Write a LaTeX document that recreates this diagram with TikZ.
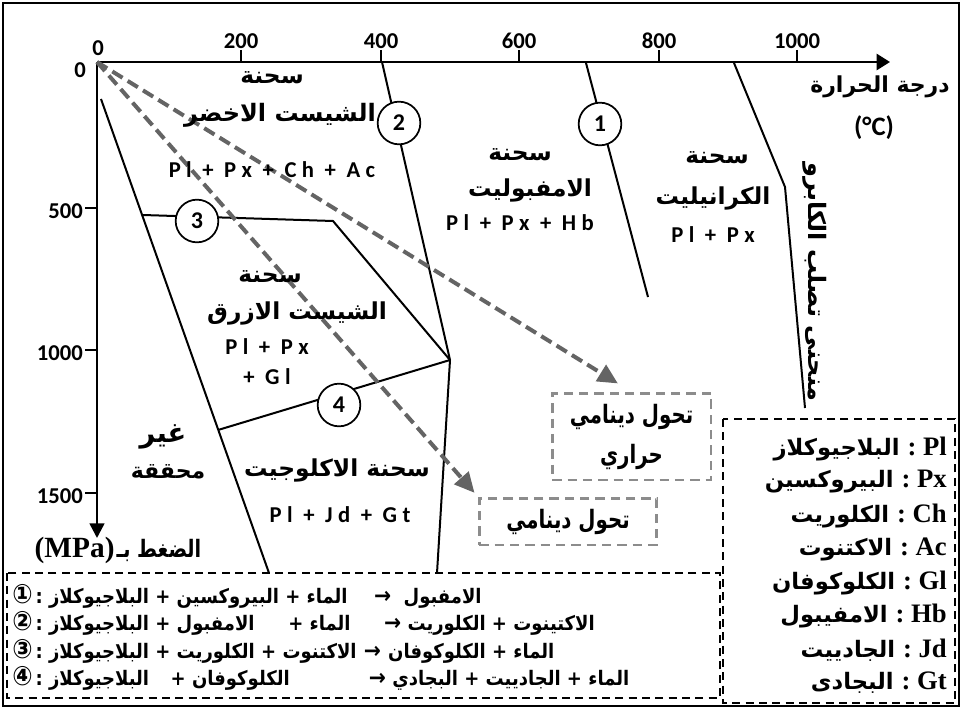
\documentclass[tikz,border=0pt]{standalone}
\usepackage{fontspec}
\usetikzlibrary{arrows.meta,calc}
\TeXXeTstate=1
\setmainfont{Carlito}
\newfontfamily\spfont[LetterSpace=24]{Carlito}
\newfontfamily\arfont[Script=Arabic]{DejaVu Sans}
\newfontfamily\serfont{Liberation Serif}
\newfontfamily\symfont{DejaVu Sans}
% one right-to-left Arabic run
\newcommand\arw[1]{{\arfont\bfseries\beginR #1\endR}}
\newcommand\rw[1]{\beginR #1\endR}
% narrowed Arabic run (keeps the glyph height)
\newcommand\nrw[1]{\scalebox{0.78}[1]{\beginR #1\endR}}
\newcommand\rarr{{\symfont\bfseries\fontsize{17}{18}\selectfont →}}
\newcommand\cnum[1]{{\symfont\fontsize{20}{20}\selectfont #1}}
\definecolor{arrowgray}{RGB}{100,100,100}
\definecolor{boxgray}{RGB}{140,140,140}

\begin{document}
\begin{tikzpicture}[x=0.75pt,y=-0.75pt,
  axis/.style={line width=1.9pt},
  tick/.style={line width=1.5pt},
  bound/.style={line width=1.5pt, line join=round},
  num/.style={inner sep=0pt, font=\fontsize{17}{20}\selectfont\bfseries},
  mineral/.style={inner sep=0pt, font=\spfont\fontsize{17}{20}\selectfont\bfseries},
  fac/.style={inner sep=0pt, font=\fontsize{17.5}{20}\selectfont},
  circ/.style={circle, draw, line width=1.3pt, fill=white, minimum size=32pt,
    inner sep=0pt, font=\fontsize{18}{20}\selectfont\bfseries},
  garrow/.style={draw=arrowgray, line width=3pt, dash pattern=on 9pt off 4.5pt,
    -{Triangle[length=15pt,width=14pt,fill=arrowgray]}},
  gbox/.style={draw=boxgray, line width=2pt, dash pattern=on 7pt off 4.5pt,
    inner sep=0pt, align=center, font=\arfont\bfseries\fontsize{19}{30}\selectfont},
  kbox/.style={draw=black, line width=1.3pt, dash pattern=on 6pt off 4pt},
  react/.style={inner sep=0pt, anchor=west, font=\arfont\bfseries\fontsize{15}{18}\selectfont},
  key/.style={inner sep=0pt, anchor=east, font=\arfont\bfseries\fontsize{17}{18}\selectfont},
]
\useasboundingbox (0,0) rectangle (962,709);

% frame and framed boxes
\draw[line width=1.8pt] (3,3) rectangle (959,706);
\draw[kbox] (7,573) rectangle (720,698);
\draw[kbox] (723,419) rectangle (955,703);

% facies boundaries
\coordinate (apex) at (450,360);
\coordinate (b3a) at (143,215);
\coordinate (b3b) at (333,221);
\coordinate (b4a) at (218,430);
\draw[bound] (101,99) -- (269,573);
\draw[bound] (382,62) -- (apex) -- (437,573);
\draw[bound] (b3a) -- (b3b) -- (apex);
\draw[bound] (b4a) -- (apex);
\draw[bound] (586,63) -- (648,297);
\draw[bound] (734,63) -- (785,187) -- (805,408);

% axes
\coordinate (o) at (97,62);
\coordinate (xend) at (890,62);
\coordinate (yend) at (97,538);
\draw[axis,-{Triangle[length=10pt,width=12pt]}] (o) -- (xend);
\draw[axis,-{Triangle[length=11pt,width=11pt]}] (o) -- (yend);
\foreach \t/\x in {200/241,400/381,600/519,800/659,1000/797}{
  \draw[tick] (\x,50) -- (\x,62);
  \node[num] (tx\t) at (\x,41) {\t};
}
\foreach \t/\y in {500/208,1000/350,1500/493}{
  \draw[tick] (85,\y) -- (97,\y);
  \node[num,anchor=east] (ty\t) at (83,\y+3) {\t};
}
\node[num] (tx0) at (98,48) {0};
\node[num] (ty0) at (80,70) {0};

% axis titles
\node[fac, font=\fontsize{16.5}{20}\selectfont] (ttl) at (880,87) {\arw{درجة الحرارة}};
\node[num, font=\fontsize{20}{22}\selectfont\bfseries] (tunit) at (874,128) {(°C)};
\node[inner sep=0pt] (ptl) at (118,550)
  {{\serfont\bfseries\fontsize{22}{22}\selectfont (MPa)}\,{\arfont\bfseries\fontsize{18}{22}\selectfont\scalebox{0.8}[1]{\rw{الضغط بـ}}}};

% metamorphic transformation boxes
\node[gbox, minimum width=119pt, minimum height=65pt] (dyn1) at (631.5,436.5)
  {\nrw{تحول دينامي}\\ \nrw{حراري}};
\node[gbox, minimum width=133pt, minimum height=35pt] (dyn2) at (568,521.5)
  {\nrw{تحول دينامي}};
\draw[garrow, shorten >=12pt] (o) -- (dyn1.north);
\draw[garrow, shorten >=4pt] (o) -- (dyn2.north west);

% reaction circles
\node[circ] (c1) at (600,124) {1};
\node[circ] (c2) at (399,123) {2};
\node[circ] (c3) at (197,221) {3};
\node[circ] (c4) at (339,405) {4};

% facies names
\node[fac] (gs1) at (272,78) {\arw{سحنة}};
\node[fac, font=\fontsize{18}{20}\selectfont] (gs2) at (280,115) {\arw{الشيست الاخضر}};
\node[mineral] (gs3) at (272,170) {Pl + Px + Ch + Ac};
\node[fac] (am1) at (520,155) {\arw{سحنة}};
\node[fac] (am2) at (530,190) {\arw{الامفبوليت}};
\node[mineral] (am3) at (520,223) {Pl + Px + Hb};
\node[fac] (gr1) at (717,158) {\arw{سحنة}};
\node[fac] (gr2) at (713,198) {\arw{الكرانيليت}};
\node[mineral] (gr3) at (713,235) {Pl + Px};
\node[fac] (bs1) at (270,277) {\arw{سحنة}};
\node[fac] (bs2) at (297,313) {\arw{الشيست الازرق}};
\node[mineral] (bs3) at (267,347) {Pl + Px};
\node[mineral] (bs4) at (267,377) {+ Gl};
\node[fac, font=\fontsize{20.5}{22}\selectfont] (un1) at (163,437) {\arw{غير}};
\node[fac, font=\fontsize{16.5}{20}\selectfont] (un2) at (168,472) {\arw{محققة}};
\node[fac, font=\fontsize{17.5}{20}\selectfont] (ec1) at (337,470) {\arw{سحنة الاكلوجيت}};
\node[mineral] (ec2) at (340,515) {Pl + Jd + Gt};
\node[fac, font=\fontsize{18}{20}\selectfont, rotate=-90] (gab) at (815,282) {\arw{منحنى تصلب الكابرو}};

% reactions
\node[react] (r1) at (12,596) {\scalebox{0.9}[1]{\cnum{①}\,:\ \rw{البلاجيوكلاز} + \rw{البيروكسين} + \rw{الماء}\hspace{22pt}\rarr\ \ \rw{الامفبول}}};
\node[react] (r2) at (12,623) {\scalebox{0.9}[1]{\cnum{②}\,:\ \rw{البلاجيوكلاز} + \rw{الامفبول}\hspace{28pt}+ \rw{الماء}\hspace{28pt}\rarr\ \rw{الكلوريت} + \rw{الاكتينوت}}};
\node[react] (r3) at (12,651) {\scalebox{0.9}[1]{\cnum{③}\,:\ \rw{البلاجيوكلاز} + \rw{الكلوريت} + \rw{الاكتنوت}\hspace{6pt}\rarr\hspace{6pt}\rw{الكلوكوفان} + \rw{الماء}}};
\node[react] (r4) at (12,678) {\scalebox{0.9}[1]{\cnum{④}\,:\ \rw{البلاجيوكلاز}\hspace{18pt}+ \rw{الكلوكوفان}\hspace{66pt}\rarr\ \rw{البجادي} + \rw{الجادييت} + \rw{الماء}}};

% mineral abbreviations
\foreach \ab/\nm/\y [count=\i] in {Pl/البلاجيوكلاز/449, Px/البيروكسين/482, Ch/الكلوريت/516,
    Ac/الاكتنوت/549, Gl/الكلوكوفان/583, Hb/الامفيبول/616, Jd/الجادييت/650, Gt/البجادى/683}{
  \node[key] (k\i) at (947,\y) {\rw{\nm}\ {\serfont\fontsize{20}{20}\selectfont :\ \ab}};
}
\end{tikzpicture}
\end{document}
